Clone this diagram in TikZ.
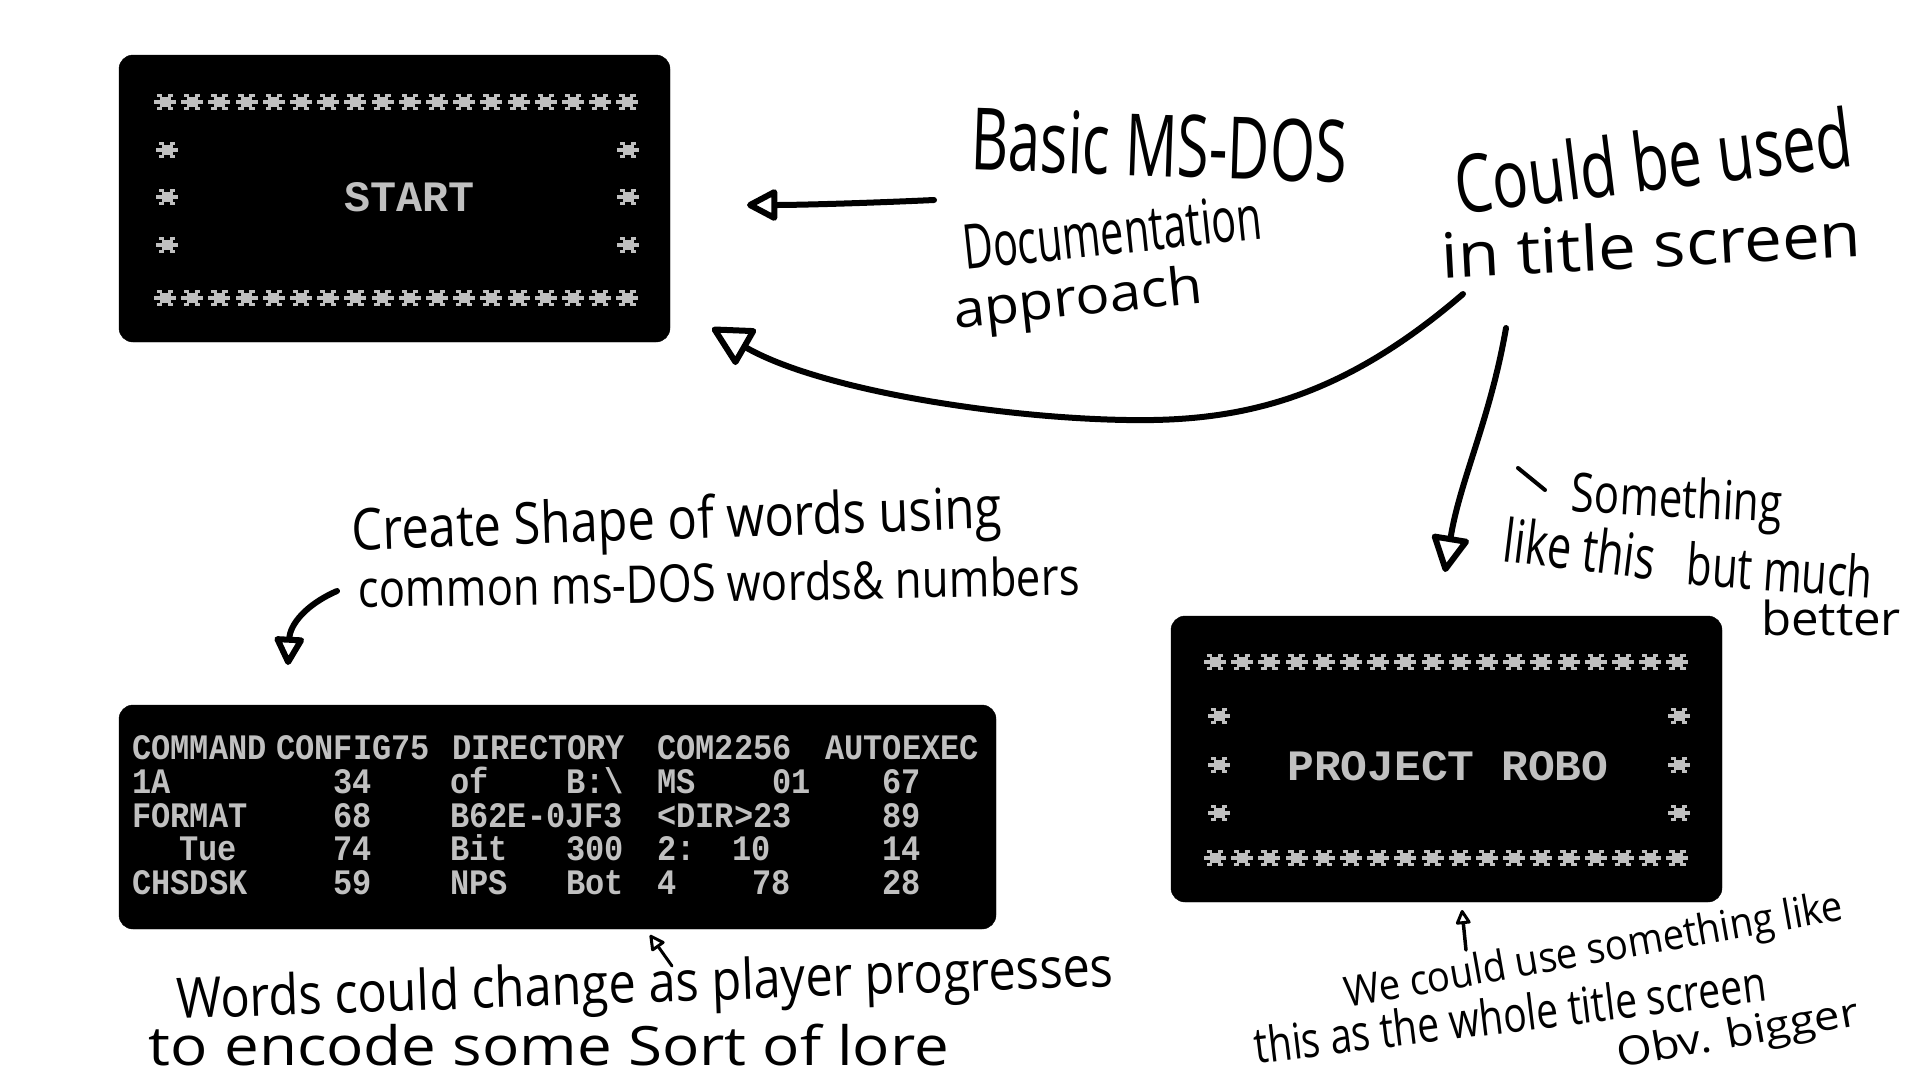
\documentclass[tikz,border=0pt]{standalone}
\usepackage{fontspec}
\usepackage{graphicx}
\usetikzlibrary{arrows.meta}
\newfontfamily\dosfont{Liberation Mono}
\newfontfamily\handfont{Open Sans}
\definecolor{dosgrey}{RGB}{192,192,192}
\newcommand{\dos}[1]{\scalebox{1}[1.12]{\dosfont\bfseries\fontsize{32}{32}\selectfont #1}}
\newcommand{\hwt}[3]{\resizebox*{#1}{#2}{\handfont #3}}
\tikzset{
  screen/.style={fill=black, draw=black, rounded corners=14pt, inner sep=0pt},
  dostxt/.style={text=dosgrey, inner sep=0pt},
  handtxt/.style={inner sep=0pt, text=black},
  ink/.style={line width=6pt, line cap=round, line join=round, draw=black},
  bighead/.style={-{Triangle[open, length=#1, width=#1, line width=6pt, round]}},
  smallhead/.style={-{Triangle[open, length=#1, width=#1, line width=3pt, round]}},
  ast/.pic={
    \fill[dosgrey] (-8.25,-8) rectangle (-2.75,-4.8);
    \fill[dosgrey] (2.75,-8) rectangle (8.25,-4.8);
    \fill[dosgrey] (-5.5,-4.8) rectangle (5.5,-1.6);
    \fill[dosgrey] (-11,-1.6) rectangle (11,1.6);
    \fill[dosgrey] (-5.5,1.6) rectangle (5.5,4.8);
    \fill[dosgrey] (-8.25,4.8) rectangle (-2.75,8);
    \fill[dosgrey] (2.75,4.8) rectangle (8.25,8);
  }
}
\begin{document}
\begin{tikzpicture}[x=1pt,y=-1pt]
\useasboundingbox[fill=white] (0,0) rectangle (1920,1080);

% ---------- START screen ----------
\node[screen, minimum width=551pt, minimum height=287pt] (startbox) at (394.5,198.5) {};
\foreach \i in {0,...,17} {
  \pic at ({165+\i*27.2},102) {ast};
  \pic at ({165+\i*27.2},298) {ast};
}
\foreach \yy in {150,197,245} {
  \pic at (167,\yy) {ast};
  \pic at (628,\yy) {ast};
}
\node[dostxt] (starttxt) at (410,197) {\resizebox{130pt}{29pt}{\dosfont\bfseries START}};

% ---------- PROJECT ROBO screen ----------
\node[screen, minimum width=551pt, minimum height=286pt] (robobox) at (1446.5,759) {};
\foreach \i in {0,...,17} {
  \pic at ({1215+\i*27.2},662) {ast};
  \pic at ({1215+\i*27.2},858) {ast};
}
\foreach \yy in {716,765,813} {
  \pic at (1219,\yy) {ast};
  \pic at (1679,\yy) {ast};
}
\node[dostxt] (robotxt) at (1448,766) {\resizebox{321pt}{29pt}{\dosfont\bfseries PROJECT ROBO}};

% ---------- directory listing screen ----------
\node[screen, minimum width=877pt, minimum height=224pt] (dirbox) at (557.5,817) {};
% row 1
\node[dostxt, anchor=base west] (r1a) at (132,759) {\dos{COMMAND}};
\node[dostxt, anchor=base west] (r1b) at (276,759) {\dos{CONFIG75}};
\node[dostxt, anchor=base west] (r1c) at (452,759) {\dos{DIRECTORY}};
\node[dostxt, anchor=base west] (r1d) at (657,759) {\dos{COM2256}};
\node[dostxt, anchor=base west] (r1e) at (825,759) {\dos{AUTOEXEC}};
% row 2
\node[dostxt, anchor=base west] (r2a) at (132,793) {\dos{1A}};
\node[dostxt, anchor=base east] (r2b) at (372,793) {\dos{34}};
\node[dostxt, anchor=base west] (r2c) at (450,793) {\dos{of}};
\node[dostxt, anchor=base east] (r2d) at (624,793) {\dos{B:\textbackslash}};
\node[dostxt, anchor=base west] (r2e) at (657,793) {\dos{MS}};
\node[dostxt, anchor=base east] (r2f) at (811,793) {\dos{01}};
\node[dostxt, anchor=base east] (r2g) at (921,793) {\dos{67}};
% row 3
\node[dostxt, anchor=base west] (r3a) at (132,827) {\dos{FORMAT}};
\node[dostxt, anchor=base east] (r3b) at (372,827) {\dos{68}};
\node[dostxt, anchor=base west] (r3c) at (450,827) {\dos{B62E-0JF3}};
\node[dostxt, anchor=base west] (r3d) at (657,827) {\dos{<DIR>23}};
\node[dostxt, anchor=base east] (r3e) at (921,827) {\dos{89}};
% row 4
\node[dostxt, anchor=base west] (r4a) at (179,860) {\dos{Tue}};
\node[dostxt, anchor=base east] (r4b) at (372,860) {\dos{74}};
\node[dostxt, anchor=base west] (r4c) at (450,860) {\dos{Bit}};
\node[dostxt, anchor=base east] (r4d) at (624,860) {\dos{300}};
\node[dostxt, anchor=base west] (r4e) at (657,860) {\dos{2:}};
\node[dostxt, anchor=base east] (r4f) at (771,860) {\dos{10}};
\node[dostxt, anchor=base east] (r4g) at (921,860) {\dos{14}};
% row 5
\node[dostxt, anchor=base west] (r5a) at (132,894) {\dos{CHSDSK}};
\node[dostxt, anchor=base east] (r5b) at (372,894) {\dos{59}};
\node[dostxt, anchor=base west] (r5c) at (450,894) {\dos{NPS}};
\node[dostxt, anchor=base east] (r5d) at (624,894) {\dos{Bot}};
\node[dostxt, anchor=base west] (r5e) at (657,894) {\dos{4}};
\node[dostxt, anchor=base east] (r5f) at (791,894) {\dos{78}};
\node[dostxt, anchor=base east] (r5g) at (921,894) {\dos{28}};

% ---------- handwritten notes ----------
\node[handtxt, rotate=-2] (basic) at (1159,145) {\hwt{376pt}{64pt}{Basic MS-DOS}};
\node[handtxt, rotate=6] (doc) at (1112,232) {\hwt{300pt}{46pt}{Documentation}};
\node[handtxt, rotate=6] (appr) at (1078,302) {\hwt{250pt}{52pt}{approach}};
\node[handtxt, rotate=7] (could) at (1653,160) {\hwt{400pt}{62pt}{Could be used}};
\node[handtxt, rotate=3] (intitle) at (1651,244) {\hwt{420pt}{48pt}{in title screen}};
\node[handtxt, rotate=2] (create) at (677,524) {\hwt{650pt}{58pt}{Create Shape of words using}};
\node[handtxt, rotate=1] (common) at (719,582) {\hwt{721pt}{40pt}{common ms-DOS words\& numbers}};
\node[handtxt, rotate=-3] (something) at (1677,503) {\hwt{211pt}{54pt}{Something}};
\node[handtxt, rotate=-7] (likethis) at (1580,548) {\hwt{152pt}{46pt}{like this}};
\node[handtxt, rotate=-4] (butmuch) at (1780,570) {\hwt{186pt}{44pt}{but much}};
\node[handtxt] (better) at (1831,618) {\hwt{140pt}{36pt}{better}};
\node[handtxt, rotate=2] (words) at (645,988) {\hwt{937pt}{56pt}{Words could change as player progresses}};
\node[handtxt] (encode) at (549,1045) {\hwt{800pt}{42pt}{to encode some Sort of lore}};
\node[handtxt, rotate=10] (weuse) at (1594,953) {\hwt{505pt}{42pt}{We could use something like}};
\node[handtxt, rotate=7] (thisas) at (1510,1014) {\hwt{515pt}{38pt}{this as the whole title screen}};
\node[handtxt, rotate=10] (obv) at (1738,1036) {\hwt{245pt}{40pt}{Obv. bigger}};

% ---------- connectors ----------
\coordinate (aS) at (934,200);
\coordinate (aE) at (747,205);
\draw[ink, bighead=34pt] (aS) .. controls (870,203) and (800,205) .. (aE);

\coordinate (bS) at (1463,294);
\coordinate (bM) at (1127,420);
\coordinate (bE) at (712,328);
\draw[ink, bighead=44pt] (bS) .. controls (1340,400) and (1240,422) .. (bM)
  .. controls (1000,418) and (820,390) .. (bE);

\coordinate (cS) at (1506,328);
\coordinate (cE) at (1445,572);
\draw[ink, bighead=40pt] (cS) .. controls (1490,420) and (1460,480) .. (cE);

\coordinate (dS) at (337,591);
\coordinate (dE) at (288,665);
\draw[ink, bighead=32pt] (dS) .. controls (305,605) and (290,625) .. (dE);

\coordinate (eS) at (672,966);
\coordinate (eE) at (650,935);
\draw[ink, line width=3pt, smallhead=17pt] (eS) -- (eE);

\coordinate (fS) at (1466,950);
\coordinate (fE) at (1462,910);
\draw[ink, line width=3.5pt, smallhead=16pt] (fS) -- (fE);

\coordinate (tk1) at (1518,468);
\coordinate (tk2) at (1545,490);
\draw[ink, line width=4pt] (tk1) -- (tk2);
\end{tikzpicture}
\end{document}
